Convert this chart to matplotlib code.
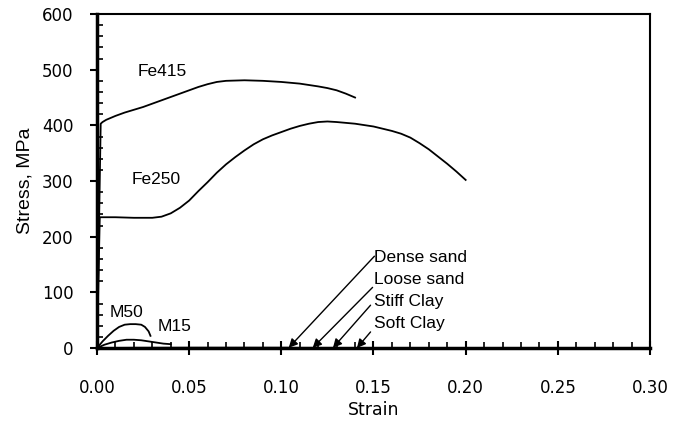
import matplotlib
matplotlib.use("Agg")
import matplotlib.pyplot as plt
from matplotlib.ticker import MultipleLocator, FormatStrFormatter

# Stress-strain curves (strain, stress in MPa)
fe415_strain = [0, 0.002, 0.003, 0.005, 0.01, 0.015, 0.02, 0.025, 0.03, 0.035,
                0.04, 0.045, 0.05, 0.055, 0.06, 0.065, 0.07, 0.08, 0.09, 0.10,
                0.11, 0.12, 0.125, 0.13, 0.135, 0.14]
fe415_stress = [0, 403, 406, 410, 417, 423, 428, 433, 439, 445,
                451, 457, 463, 469, 474, 478, 480, 481, 480, 478,
                475, 470, 467, 463, 457, 450]

fe250_strain = [0, 0.0015, 0.005, 0.01, 0.02, 0.03, 0.035, 0.04, 0.045, 0.05,
                0.055, 0.06, 0.065, 0.07, 0.075, 0.08, 0.085, 0.09, 0.095, 0.10,
                0.105, 0.11, 0.115, 0.12, 0.125, 0.13, 0.14, 0.15, 0.16, 0.165,
                0.17, 0.175, 0.18, 0.185, 0.19, 0.195, 0.20]
fe250_stress = [0, 235, 235, 235, 234, 234, 236, 242, 252, 265,
                282, 298, 315, 330, 343, 355, 366, 375, 382, 388,
                394, 399, 403, 406, 407, 406, 403, 398, 390, 385,
                378, 368, 357, 344, 331, 317, 302]

m50_strain = [0, 0.003, 0.006, 0.009, 0.012, 0.015, 0.018, 0.021, 0.024, 0.026,
              0.028, 0.029]
m50_stress = [0, 12, 22, 31, 38, 42, 43, 43, 42, 38, 30, 22]

m15_strain = [0, 0.004, 0.008, 0.012, 0.016, 0.02, 0.024, 0.028, 0.032, 0.036, 0.04]
m15_stress = [0, 6, 10, 13, 15, 15, 14, 12, 10, 8, 7]

# Soils carry stresses well below 1 MPa
dense_sand_strain = [0, 0.02, 0.05, 0.08, 0.104]
dense_sand_stress = [0, 0.45, 0.6, 0.55, 0.5]
loose_sand_strain = [0, 0.03, 0.06, 0.09, 0.117]
loose_sand_stress = [0, 0.2, 0.3, 0.33, 0.35]
stiff_clay_strain = [0, 0.03, 0.06, 0.09, 0.128]
stiff_clay_stress = [0, 0.25, 0.35, 0.38, 0.36]
soft_clay_strain = [0, 0.03, 0.07, 0.10, 0.141]
soft_clay_stress = [0, 0.04, 0.06, 0.07, 0.07]

soil_names = ["Dense sand", "Loose sand", "Stiff Clay", "Soft Clay"]
soil_curves = [(dense_sand_strain, dense_sand_stress),
               (loose_sand_strain, loose_sand_stress),
               (stiff_clay_strain, stiff_clay_stress),
               (soft_clay_strain, soft_clay_stress)]
soil_label_y = [163, 124, 84, 45]

fig = plt.figure(figsize=(6.9, 4.25), dpi=100)
ax = fig.add_axes([0.1406, 0.181, 0.8014, 0.786])

lw = 1.3
for xs, ys in [(fe415_strain, fe415_stress), (fe250_strain, fe250_stress),
               (m50_strain, m50_stress), (m15_strain, m15_stress)] + soil_curves:
    ax.plot(xs, ys, color="black", lw=lw, solid_joinstyle="round")

lab_font = dict(family="Liberation Sans", fontsize=12.5, color="black", va="center")
ax.text(0.022, 496, "Fe415", **lab_font)
ax.text(0.019, 302, "Fe250", **lab_font)
ax.text(0.007, 63, "M50", **lab_font)
ax.text(0.033, 38, "M15", **lab_font)

# Labels for soils with arrows to the ends of their curves
start_pts = [(0.1505, 165), (0.1495, 109), (0.1484, 77), (0.1484, 29)]
for name, (xs, ys), ly, (sx, sy) in zip(soil_names, soil_curves, soil_label_y, start_pts):
    ax.text(0.1505, ly, name, family="Liberation Sans", fontsize=12.5,
            ha="left", va="center")
    ax.annotate("", xy=(xs[-1], ys[-1]), xytext=(sx, sy),
                arrowprops=dict(arrowstyle="-|>", color="black", lw=1.0,
                                mutation_scale=13, shrinkA=0, shrinkB=0))

ax.set_xlim(0, 0.30)
ax.set_ylim(0, 600)
ax.xaxis.set_major_locator(MultipleLocator(0.05))
ax.xaxis.set_minor_locator(MultipleLocator(0.01))
ax.yaxis.set_major_locator(MultipleLocator(100))
ax.yaxis.set_minor_locator(MultipleLocator(20))
ax.xaxis.set_major_formatter(FormatStrFormatter("%.2f"))

ax.tick_params(axis="x", which="major", direction="inout", length=10, width=1.5,
               labelsize=12, pad=17)
ax.tick_params(axis="y", which="major", direction="out", length=5, width=1.5,
               labelsize=12, pad=12)
ax.tick_params(which="minor", direction="in", length=4, width=1.2)
for lab in ax.get_xticklabels() + ax.get_yticklabels():
    lab.set_family("DejaVu Sans")

ax.spines["left"].set_linewidth(2.5)
ax.spines["bottom"].set_linewidth(2.5)
ax.spines["top"].set_linewidth(1.5)
ax.spines["right"].set_linewidth(1.5)

ax.set_xlabel("Strain", family="DejaVu Sans", fontsize=12.5, labelpad=3)
ax.set_ylabel("Stress, MPa", family="Liberation Sans", fontsize=14, labelpad=6)

fig.savefig("out.png", dpi=100)
